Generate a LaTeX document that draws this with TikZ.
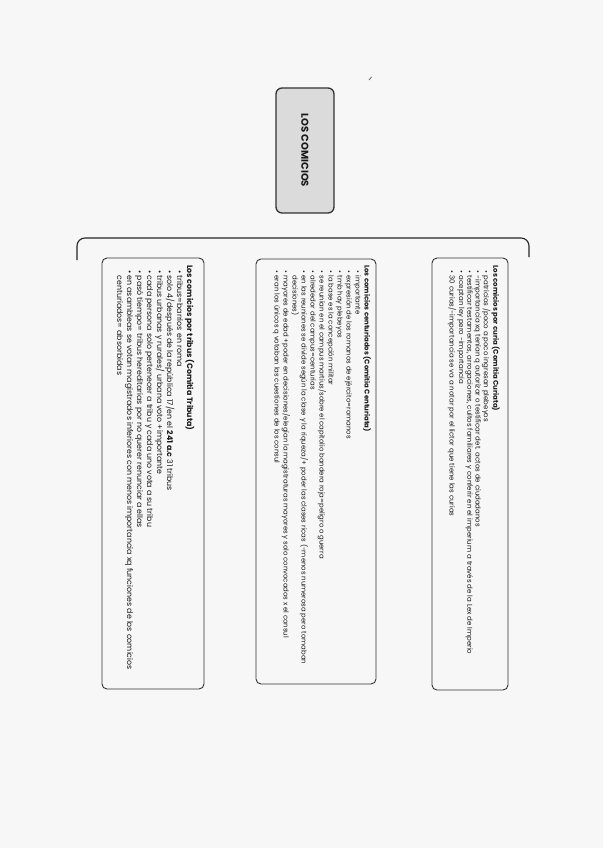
\documentclass[tikz,border=0pt]{standalone}
\usepackage{fontspec}
\setmainfont{Poppins}
\newcommand\bul{\hspace*{5pt}\makebox[5.5pt][l]{\textbullet}}
\newcommand\cont{\hspace*{10.5pt}}
\begin{document}
\begin{tikzpicture}[x=1pt,y=-1pt,
  cbox/.style={draw=black!80,line width=0.9pt,rounded corners=5pt,inner sep=0pt},
  tbox/.style={draw=black!80,line width=1.3pt,rounded corners=6pt,fill=black!14,inner sep=0pt},
  txt/.style={rotate=-90,anchor=north west,inner sep=0pt,align=left,text=black!90},
  brace/.style={draw=black!85,line width=1.1pt,rounded corners=8pt}]
\useasboundingbox[fill=black!3] (0,0) rectangle (603,848);
% title
\node[tbox,minimum width=58,minimum height=125] (title) at (305,150.5) {};
\node[rotate=-90,font=\fontsize{10}{11}\selectfont\bfseries,text=black!90] (titletxt) at (title.center) {LOS COMICIOS};
% bracket
\coordinate (bl) at (77,260);
\coordinate (br) at (529,257);
\draw[brace] (bl) -- (bl |- 0,238) -- (br |- 0,238) -- (br);
% stray mark
\coordinate (m1) at (369,80);
\coordinate (m2) at (371.5,77);
\draw[black!60,line width=0.8pt] (m1) -- (m2);
% boxes
\node[cbox,minimum width=76,minimum height=432] (curia) at (470,474) {};
\node[cbox,minimum width=120,minimum height=425] (cent) at (316,471.5) {};
\node[cbox,minimum width=102,minimum height=431] (trib) at (153,473.5) {};
% texts
\node[txt,font=\fontsize{7.0}{7.0}\selectfont] (curiatxt) at (500,265) {%
\textbf{Los comicios por curia (Comitia Curiata)}\\
\bul patricios /poco a poco ingresan plebeyos\\
\bul -importancia xq tenían q autorizar o testificar det. actos de ciudadanos\\
\bul testificar testamentos, arrogaciones, cultos familiares y conferir en el imperium a través de la Lex de Imperio\\
\bul aceptan ley pero -importancia\\
\bul 30 curias/-importancia se va a notar por el lictor que tiene las curias};
\node[txt,font=\fontsize{6.9}{9}\selectfont] (centtxt) at (371,265) {%
\textbf{Los comicios centuriados (Comitia Centuriata)}\\
\bul importante\\
\bul expresión de los romanos de ejército=romanos\\
\bul tmb hay plebeyos\\
\bul la base es la concepción militar\\
\bul se reunían en el campus martius/sobre el capitolio bandera roja=peligro o guerra\\
\bul alrededor del campus=centurias\\
\bul en las reuniones se divide según la clase y la riqueza/+ poder las clases ricas (-menos numerosa pero tomaban\\
\cont decisiones)\\
\bul mayores de edad +poder en decisiones/elegían la magistraturas mayores y solo convocados x el consul\\
\bul eran los únicos q votaban las cuestiones de los consul};
\node[txt,font=\fontsize{7.85}{10}\selectfont] (tribtxt) at (194.5,265) {%
\textbf{Los comicios por tribus (Comitia Tributa)}\\
\bul tribus=barrios en roma\\
\bul solo 4/después de la república 17/en el \textbf{241 a.c} 31 tribus\\
\bul tribus urbanas y rurales/ urbana voto +importante\\
\bul cada persona solo pertenecer a tribu y cada uno vota a su tribu\\
\bul pasó tiempo= tribus hereditarias por no querer renunciar a ellas\\
\bul en asambleas se votan magistrados inferiores con menos importancia xq funciones de los comicios\\
\cont centuriados= absorbidas};
\end{tikzpicture}
\end{document}
